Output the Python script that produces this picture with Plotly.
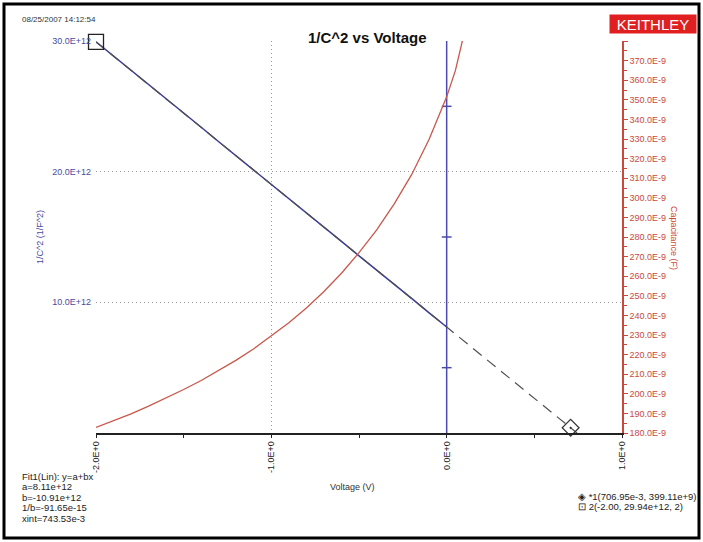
import plotly.graph_objects as go

# ---- data ----
voltage = [-2.0, -1.9, -1.8, -1.7, -1.6, -1.5, -1.4, -1.3, -1.2, -1.1, -1.0,
           -0.9, -0.8, -0.7, -0.6, -0.5, -0.4, -0.3, -0.2, -0.1, 0.0]
inv_c2 = [29.94e12, 28.86e12, 27.76e12, 26.65e12, 25.58e12, 24.47e12, 23.40e12,
          22.29e12, 21.21e12, 20.10e12, 19.03e12, 17.92e12, 16.85e12, 15.74e12,
          14.67e12, 13.56e12, 12.49e12, 11.37e12, 10.30e12, 9.19e12, 8.11e12]

cap_voltage = [-2.0, -1.9, -1.8, -1.7, -1.6, -1.5, -1.4, -1.3, -1.2, -1.1, -1.0,
               -0.9, -0.8, -0.7, -0.6, -0.5, -0.4, -0.3, -0.2, -0.1, 0.0, 0.05, 0.1]
capacitance = [182.8e-9, 186.2e-9, 189.8e-9, 193.7e-9, 197.8e-9, 202.2e-9, 206.8e-9,
               211.8e-9, 217.2e-9, 223.0e-9, 229.5e-9, 236.3e-9, 243.8e-9, 252.2e-9,
               261.5e-9, 272.0e-9, 283.5e-9, 296.8e-9, 311.8e-9, 329.9e-9, 351.5e-9,
               365.0e-9, 384.0e-9]

fit_voltage = [-2.0, 0.74353]
fit_values = [29.93e12, 0.0]

marker1 = (0.70695, 0.39911e12)
marker2 = (-2.00, 29.94e12)

cursor_v = 0.0
cursor_ticks = [5e12, 15e12, 25e12]

left_tickvals = [10e12, 20e12, 30e12]
left_ticktext = ["10.0E+12", "20.0E+12", "30.0E+12"]
right_tickvals = [v * 1e-9 for v in range(180, 390, 10)]
right_ticktext = ["%d.0E-9" % v for v in range(180, 380, 10)] + [""]
x_tickvals = [-2, -1, 0, 1]
x_ticktext = ["-2.0E+0", "-1.0E+0", "0.0E+0", "1.0E+0"]

fit_text = ["Fit1(Lin): y=a+bx", "a=8.11e+12", "b=-10.91e+12", "1/b=-91.65e-15", "xint=743.53e-3"]
marker_text = ["\u25c8 *1(706.95e-3, 399.11e+9)", "\u22a1 2(-2.00, 29.94e+12, 2)"]

FONT = "Liberation Sans Narrow, Liberation Sans, Arial, sans-serif"
BLUE = "#3b3b96"
RED = "#c8584a"
REDAX = "#c94a3c"

PLOT_H = 392.0  # px height of plot area, used to place text lines in paper units


def py(pixel_y):
    """convert a page pixel row into paper y (plot area spans rows 41..433)"""
    return (433.0 - pixel_y) / PLOT_H


def px(pixel_x):
    """convert a page pixel column into paper x (plot area spans columns 96..622)"""
    return (pixel_x - 96.0) / 526.0


fig = go.Figure()

# cursor line at V=0
fig.add_trace(go.Scatter(x=[cursor_v, cursor_v], y=[0, 30e12], mode="lines",
                         line=dict(color="#4a4ab0", width=1.5), showlegend=False, hoverinfo="skip"))
fig.add_trace(go.Scatter(x=[cursor_v] * len(cursor_ticks), y=cursor_ticks, mode="markers",
                         marker=dict(symbol="line-ew", size=7, line=dict(color="#4a4ab0", width=1.5)),
                         showlegend=False, hoverinfo="skip"))

# capacitance (right axis)
fig.add_trace(go.Scatter(x=cap_voltage, y=capacitance, mode="lines", yaxis="y2",
                         line=dict(color=RED, width=1.3), showlegend=False))

# 1/C^2 data
fig.add_trace(go.Scatter(x=voltage, y=inv_c2, mode="lines",
                         line=dict(color=BLUE, width=1.5), showlegend=False))

# fit line
fig.add_trace(go.Scatter(x=fit_voltage, y=fit_values, mode="lines",
                         line=dict(color="#505050", width=1.2, dash="11px,7px"), showlegend=False))

# markers
fig.add_trace(go.Scatter(x=[marker2[0]], y=[marker2[1]], mode="markers", cliponaxis=False,
                         marker=dict(symbol="square-open", size=15, color="#222222",
                                     line=dict(width=1.3)), showlegend=False))
fig.add_trace(go.Scatter(x=[marker1[0]], y=[marker1[1]], mode="markers", cliponaxis=False,
                         marker=dict(symbol="diamond-open-dot", size=13, color="#333333",
                                     line=dict(width=1.2)), showlegend=False))

annotations = [
    dict(text="<b>1/C^2 vs Voltage</b>", x=0.517, y=py(38), xref="paper", yref="paper",
         xanchor="center", yanchor="middle", showarrow=False,
         font=dict(family="Liberation Sans, Arial", size=15, color="#111111")),
    dict(text="08/25/2007 14:12:54", x=px(20), y=py(20), xref="paper", yref="paper",
         xanchor="left", yanchor="middle", showarrow=False,
         font=dict(family=FONT, size=8, color="#333333")),
    dict(text="KEITHLEY", x=px(697), y=py(24), xref="paper", yref="paper",
         xanchor="right", yanchor="middle", showarrow=False, bgcolor="#e02020",
         width=84, height=16, align="center", borderpad=1,
         font=dict(family="Liberation Sans, Arial", size=15, color="white")),
    dict(text="1/C^2 (1/F^2)", x=px(40), y=py(237), xref="paper", yref="paper",
         xanchor="center", yanchor="middle", showarrow=False, textangle=-90,
         font=dict(family=FONT, size=9, color="#4a4aa0")),
    dict(text="Capacitance (F)", x=px(674), y=py(238), xref="paper", yref="paper",
         xanchor="center", yanchor="middle", showarrow=False, textangle=90,
         font=dict(family=FONT, size=9, color=REDAX)),
    dict(text="Voltage (V)", x=px(352), y=py(487), xref="paper", yref="paper",
         xanchor="center", yanchor="middle", showarrow=False,
         font=dict(family=FONT, size=9, color="#333333")),
]
for i, line in enumerate(fit_text):
    annotations.append(dict(text=line, x=px(20), y=py(476 + 10.5 * i),
                            xref="paper", yref="paper", xanchor="left", yanchor="middle",
                            showarrow=False, font=dict(family=FONT, size=9.5, color="#222222")))
for i, line in enumerate(marker_text):
    annotations.append(dict(text=line, x=px(576), y=py(496 + 10.5 * i),
                            xref="paper", yref="paper", xanchor="left", yanchor="middle",
                            showarrow=False, font=dict(family=FONT, size=9.5, color="#222222")))

shapes = [
    dict(type="rect", xref="paper", yref="paper", x0=px(4), x1=px(699),
         y0=py(538), y1=py(4),
         line=dict(color="black", width=3), fillcolor="rgba(0,0,0,0)", layer="below"),
]

GRIDDASH = "1px,3px"

fig.update_layout(
    width=703, height=542,
    margin=dict(l=96, r=81, t=41, b=109),
    paper_bgcolor="white", plot_bgcolor="white",
    showlegend=False,
    annotations=annotations,
    shapes=shapes,
    xaxis=dict(range=[-2, 1], tickvals=x_tickvals, ticktext=x_ticktext, tickangle=-90,
               showgrid=True, gridcolor="#999999", griddash=GRIDDASH, gridwidth=1,
               showline=True, linecolor="#222222", linewidth=1.5,
               ticks="outside", ticklen=3, tickcolor="#222222",
               minor=dict(dtick=0.5, ticks="outside", ticklen=3, tickcolor="#222222", showgrid=False),
               zeroline=False, tickfont=dict(family=FONT, size=9, color="#222222")),
    yaxis=dict(range=[0, 30e12], tickvals=left_tickvals, ticktext=left_ticktext,
               showgrid=True, gridcolor="#999999", griddash=GRIDDASH, gridwidth=1,
               showline=False, zeroline=False, ticks="", ticklabelstandoff=4,
               tickfont=dict(family=FONT, size=9, color="#4a4aa0")),
    yaxis2=dict(range=[180e-9, 380e-9], overlaying="y", side="right",
                tickvals=right_tickvals, ticktext=right_ticktext,
                showgrid=False, zeroline=False, showline=True, linecolor=REDAX, linewidth=1.5,
                ticks="outside", ticklen=4, tickcolor=REDAX,
                minor=dict(dtick=5e-9, ticks="outside", ticklen=3, tickcolor=REDAX),
                tickfont=dict(family=FONT, size=9, color=REDAX)),
)

fig.write_html("out.html", config={"displayModeBar": False},
               post_script="document.body.style.margin='0px';document.body.style.padding='0px';")
